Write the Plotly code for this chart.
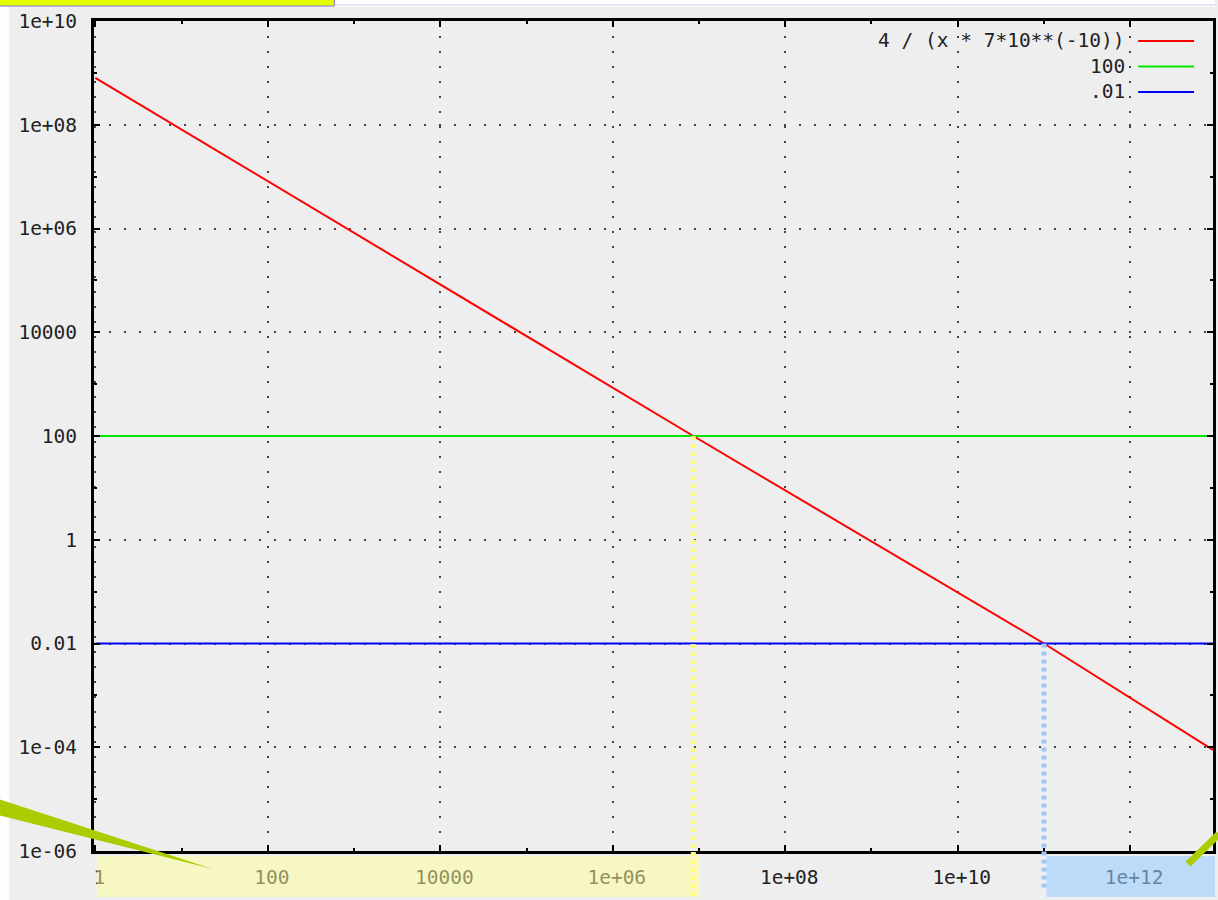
import numpy as np
import plotly.graph_objects as go

# ---- data -------------------------------------------------------------
x_red = [1, 8.6e6, 1.0e11, 9.1e12]
y_red = [8.0e8, 100, 0.01, 8.9e-5]
x_flat = [1, 1e13]
y_green = [100, 100]
y_blue = [0.01, 0.01]

names = ["4 / (x * 7*10**(-10))", "100", ".01"]
colors = ["#ff0000", "#00e600", "#0000f0"]

x_major = [1, 1e2, 1e4, 1e6, 1e8, 1e10, 1e12]
x_major_text = ["1", "100", "10000", "1e+06", "1e+08", "1e+10", "1e+12"]
x_minor = [10, 1e3, 1e5, 1e7, 1e9, 1e11]
y_major = [1e10, 1e8, 1e6, 1e4, 1e2, 1, 1e-2, 1e-4, 1e-6]
y_major_text = ["1e+10", "1e+08", "1e+06", "10000", "100", "1", "0.01", "1e-04", "1e-06"]
y_minor = [1e9, 1e7, 1e5, 1e3, 10, 0.1, 1e-3, 1e-5]

X_LOG = [-0.015, 12.96]
Y_LOG = [-6, 10]

# ---- geometry helpers -------------------------------------------------
W, H = 1218, 900
ML, MR, MT, MB = 94, 2, 21, 49
PW, PH = W - ML - MR, H - MT - MB


def px(xp):
    return (xp - ML) / PW


def py(yp):
    return (H - MB - yp) / PH


def y_paper(v):
    return (np.log10(v) - Y_LOG[0]) / (Y_LOG[1] - Y_LOG[0])


def crossing(level):
    lx = np.log10(x_red)
    ly = np.log10(y_red)
    return 10 ** np.interp(np.log10(level), ly[::-1], lx[::-1])


x_hi = crossing(y_green[0])
x_lo = crossing(y_blue[0])

FONT = "DejaVu Sans Mono"
TXT = "#222222"

fig = go.Figure()
series = [(x_red, y_red), (x_flat, y_green), (x_flat, y_blue)]
for (xs, ys), name, col in zip(series, names, colors):
    fig.add_trace(go.Scatter(x=xs, y=ys, mode="lines", name=name,
                             line=dict(color=col, width=2), showlegend=False))

grid = dict(showgrid=True, gridcolor="#444444", gridwidth=1.5, griddash="2px,13px")
axis_common = dict(
    type="log", ticks="inside", ticklen=6, tickwidth=2, tickcolor="black",
    showline=True, linecolor="black", linewidth=3, mirror="ticks",
    zeroline=False, tickmode="array",
    tickfont=dict(family=FONT, size=19.5, color=TXT),
    **grid,
)
fig.update_xaxes(range=X_LOG, tickvals=x_major, ticktext=x_major_text,
                 ticklabelstandoff=7, ticklabelshift=4,
                 minor=dict(tickvals=x_minor, ticks="inside", ticklen=3,
                            tickwidth=2, tickcolor="black", showgrid=False),
                 **axis_common)
fig.update_yaxes(range=Y_LOG, tickvals=y_major, ticktext=y_major_text,
                 ticklabelstandoff=10,
                 minor=dict(tickvals=y_minor, ticks="inside", ticklen=3,
                            tickwidth=2, tickcolor="black", showgrid=False),
                 **axis_common)

shapes = []
# white border strips around the gray canvas
shapes.append(dict(type="rect", xref="paper", yref="paper", layer="above",
                   x0=px(0), x1=px(9), y0=py(900), y1=py(7),
                   fillcolor="white", line=dict(width=0)))
shapes.append(dict(type="rect", xref="paper", yref="paper", layer="above",
                   x0=px(0), x1=px(W), y0=py(7), y1=py(0),
                   fillcolor="white", line=dict(width=0)))
shapes.append(dict(type="line", xref="paper", yref="paper", layer="above",
                   x0=px(335), x1=px(W), y0=py(5), y1=py(5),
                   line=dict(color="#c8cdf0", width=1)))
shapes.append(dict(type="rect", xref="paper", yref="paper", layer="above",
                   x0=px(-2), x1=px(335), y0=py(6), y1=py(-3),
                   fillcolor="#e6ff00", line=dict(color="#7a6fd8", width=1)))

# highlighted stretches of the x axis
shapes.append(dict(type="rect", xref="paper", yref="paper", layer="above",
                   x0=px(97), x1=px(701), y0=py(897), y1=py(856),
                   fillcolor="#ffff99", opacity=0.5, line=dict(width=0)))
shapes.append(dict(type="rect", xref="paper", yref="paper", layer="above",
                   x0=px(1049), x1=px(W), y0=py(897), y1=py(856),
                   fillcolor="#99ccff", opacity=0.58, line=dict(width=0)))

# dashed drop lines from the two crossings
shapes.append(dict(type="line", xref="x", yref="paper", layer="above",
                   x0=x_hi, x1=x_hi, y0=y_paper(y_green[0]), y1=py(897),
                   line=dict(color="#ffff77", width=5, dash="4px,4px")))
shapes.append(dict(type="line", xref="x", yref="paper", layer="above",
                   x0=x_lo, x1=x_lo, y0=y_paper(y_blue[0]), y1=py(891),
                   line=dict(color="#9cc8f8", width=5, dash="4px,4px")))


# green callout pointers
def pth(pts):
    return "M " + " L ".join(f"{px(a):.5f},{py(b):.5f}" for a, b in pts) + " Z"


shapes.append(dict(type="path", xref="paper", yref="paper", layer="above",
                   path=pth([(-2, 799), (213, 869), (-2, 815)]),
                   fillcolor="#aacc00", line=dict(width=0)))
shapes.append(dict(type="line", xref="paper", yref="paper", layer="above",
                   x0=px(1191), y0=py(864), x1=px(1222), y1=py(834),
                   line=dict(color="#aacc00", width=7)))

# key: text on the left, line sample on the right
annotations = []
for i, (name, col) in enumerate(zip(names, colors)):
    yy = 41 + 25.5 * i
    annotations.append(dict(xref="paper", yref="paper", x=px(1130), y=py(yy),
                            xanchor="right", yanchor="middle", showarrow=False,
                            text=name, font=dict(family=FONT, size=19.5, color=TXT)))
    shapes.append(dict(type="line", xref="paper", yref="paper", layer="above",
                       x0=px(1141), x1=px(1197), y0=py(yy), y1=py(yy),
                       line=dict(color=col, width=2)))

fig.update_layout(
    width=W, height=H,
    margin=dict(l=ML, r=MR, t=MT, b=MB),
    paper_bgcolor="#eeeeee", plot_bgcolor="#eeeeee",
    shapes=shapes, annotations=annotations,
    showlegend=False,
)

fig.write_html("out.html")
